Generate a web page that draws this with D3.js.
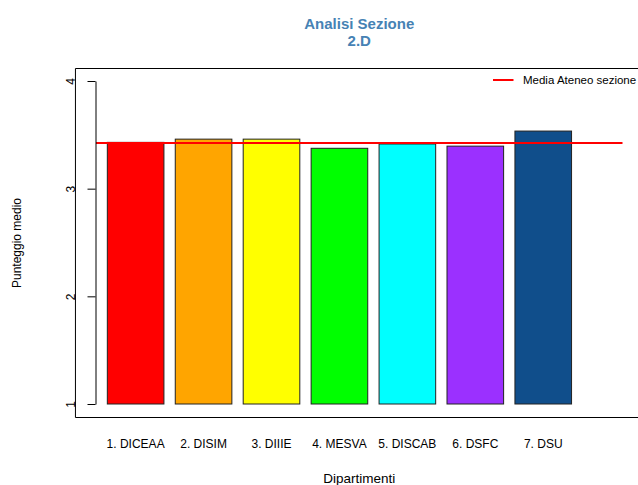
<!DOCTYPE html>
<html>
<head>
<meta charset="utf-8">
<script src="https://cdn.jsdelivr.net/npm/d3@7"></script>
<style>
  html, body { margin: 0; padding: 0; background: #fff; overflow: hidden; }
  svg { display: block; overflow: hidden; font-family: "Liberation Sans", Arial, Helvetica, sans-serif; }
</style>
</head>
<body>
<svg id="chart" width="638" height="485"></svg>
<script>
const categories = ["1. DICEAA", "2. DISIM", "3. DIIIE", "4. MESVA", "5. DISCAB", "6. DSFC", "7. DSU"];
const values = [3.43, 3.46, 3.46, 3.375, 3.415, 3.395, 3.535];
const barColors = ["#FF0000", "#FFA500", "#FFFF00", "#00FF00", "#00FFFF", "#9B30FF", "#104E8B"];
const meanValue = 3.424;
const meanLineX = [0, 9.3];
const yTicks = [1, 2, 3, 4];
const titleLines = ["Analisi Sezione", "2.D"];
const legendLabel = "Media Ateneo sezione";
const xTitle = "Dipartimenti";
const yTitle = "Punteggio medio";

const svg = d3.select("#chart");
const x = d3.scaleLinear().domain([0, 9.3]).range([96, 622.5]);
const y = d3.scaleLinear().domain([1, 4]).range([404, 81]);
const barSpace = 0.2, barWidth = 1;

// plot box (its right side lies past the picture's right edge)
const bx0 = x(-0.372) + 0.5, bx1 = x(9.672), by0 = Math.round(y(4.12)) + 0.5, by1 = Math.round(y(0.88)) + 0.5;
svg.append("path")
  .attr("d", `M${bx1},${by0}H${bx0}V${by1}H${bx1}`)
  .attr("fill", "none").attr("stroke", "#000").attr("stroke-width", 1);

// bars
svg.append("g").selectAll("rect").data(values).join("rect")
  .attr("x", (d, i) => x(barSpace + i * (barWidth + barSpace)))
  .attr("width", x(barWidth) - x(0))
  .attr("y", d => y(d))
  .attr("height", d => y(1) - y(d))
  .attr("fill", (d, i) => barColors[i])
  .attr("stroke", "#222").attr("stroke-width", 1);

// mean line
svg.append("line")
  .attr("x1", x(meanLineX[0])).attr("x2", x(meanLineX[1]))
  .attr("y1", y(meanValue)).attr("y2", y(meanValue))
  .attr("stroke", "#FF0000").attr("stroke-width", 2);

// y axis
const yAxis = svg.append("g")
  .attr("transform", "translate(95.5,0)")
  .call(d3.axisLeft(y).tickValues(yTicks).tickSize(8).tickSizeOuter(0).tickFormat(d3.format("d")));
yAxis.select(".domain").attr("stroke", "#000");
yAxis.selectAll(".tick line").attr("stroke", "#000");
yAxis.selectAll(".tick text")
  .attr("x", null).attr("dy", null)
  .attr("text-anchor", "middle")
  .attr("font-size", 12)
  .attr("font-family", "Liberation Sans, Arial, sans-serif")
  .attr("fill", "#000")
  .attr("transform", "translate(-20.5,0) rotate(-90)")
  .attr("y", 0);

// x category labels
svg.append("g").selectAll("text").data(categories).join("text")
  .attr("x", (d, i) => x(barSpace + i * (barWidth + barSpace) + barWidth / 2))
  .attr("y", 448)
  .attr("text-anchor", "middle")
  .attr("font-size", 12)
  .attr("fill", "#000")
  .text(d => d);

// axis titles
svg.append("text")
  .attr("x", (x(-0.372) + x(9.672)) / 2).attr("y", 483)
  .attr("text-anchor", "middle").attr("font-size", 13.5)
  .text(xTitle);
svg.append("text")
  .attr("transform", `translate(21,${(by0 + by1) / 2}) rotate(-90)`)
  .attr("text-anchor", "middle").attr("font-size", 12)
  .text(yTitle);

// title (two lines)
svg.append("g").selectAll("text").data(titleLines).join("text")
  .attr("x", (x(-0.372) + x(9.672)) / 2)
  .attr("y", (d, i) => 29 + i * 17)
  .attr("text-anchor", "middle")
  .attr("font-size", 15)
  .attr("font-weight", "bold")
  .attr("fill", "#4682B4")
  .text(d => d);

// legend
const lg = svg.append("g");
lg.append("line")
  .attr("x1", 493).attr("x2", 513.5).attr("y1", 80).attr("y2", 80)
  .attr("stroke", "#FF0000").attr("stroke-width", 2);
lg.append("text")
  .attr("x", 523).attr("y", 84)
  .attr("font-size", 11.5).attr("fill", "#000")
  .text(legendLabel);
</script>
</body>
</html>
